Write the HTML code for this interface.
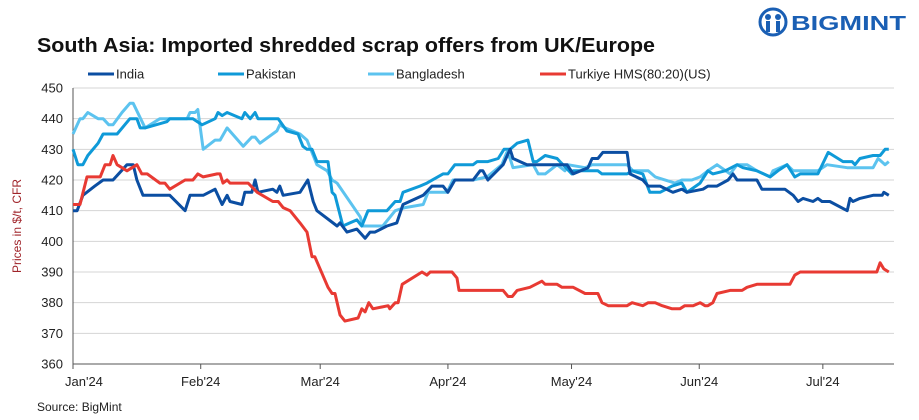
<!DOCTYPE html>
<html><head><meta charset="utf-8"><style>
body{margin:0;background:#fff;}
svg{display:block;font-family:"Liberation Sans",Arial,sans-serif;}
</style></head><body>
<svg id="chart" width="919" height="420" viewBox="0 0 919 420" xmlns="http://www.w3.org/2000/svg">
<text x="37" y="52" font-size="20" font-weight="bold" fill="#111" textLength="618" lengthAdjust="spacingAndGlyphs">South Asia: Imported shredded scrap offers from UK/Europe</text>
<g>
<circle cx="773" cy="22" r="13" fill="none" stroke="#1a5fb4" stroke-width="3"/>
<circle cx="768" cy="17" r="3" fill="#1a5fb4"/><circle cx="778" cy="17" r="3" fill="#1a5fb4"/>
<rect x="766" y="21" width="4" height="11" fill="#1a5fb4"/><rect x="776" y="21" width="4" height="11" fill="#1a5fb4"/>
<text x="791" y="30" font-size="20" font-weight="bold" fill="#1a5fb4" textLength="115" lengthAdjust="spacingAndGlyphs">BIGMINT</text>
</g>
<g id="legend" font-size="13" fill="#222"></g>
<g id="grid"></g>
<g id="yaxis" font-size="13" fill="#222"></g>
<g id="xaxis" font-size="13" fill="#222"></g>
<g id="series"></g>
<text transform="translate(21,226) rotate(-90)" text-anchor="middle" font-size="12" fill="#a0242a">Prices in $/t, CFR</text>
<text x="37" y="411" font-size="12" fill="#222">Source: BigMint</text>
</svg>
<script>
const yTicks=[360,370,380,390,400,410,420,430,440,450];
const monthLabels=["Jan'24","Feb'24","Mar'24","Apr'24","May'24","Jun'24","Jul'24"];
const monthDays=[0,31,60,91,121,152,182];
const seriesNames=["India","Pakistan","Bangladesh","Turkiye HMS(80:20)(US)"];
const seriesColors=["#0b4ea2","#0f9ad8","#5cc3ef","#e83a33"];
const indiaDays=[0,1,2.4,5.3,7.3,9.7,13.1,14.6,15.5,17,23.5,27.2,28.4,31.6,34.5,36.2,37.4,38.1,41,41.7,43.4,44.2,44.9,48.5,49.5,50.2,51,55.1,57,58.3,59.2,64.1,64.8,66.5,68.9,70.9,72.1,73.3,76.2,78.6,80.1,85,87.1,89.8,91,92.7,97.1,98.8,99.5,100.7,104.4,106.1,106.8,110.2,114.1,115,119.9,121.4,125,126,127.4,128.6,134.5,135.2,138.3,139.6,142.5,145.6,147.8,149,152.9,154.1,156.3,159,160.2,161.2,166,167.2,172.8,174.8,176,177.2,179.6,180.8,181.8,183.7,187.9,188.6,189.3,191,194.2,196.4,196.8,198];
const indiaVals=[410,410,415,418,420,420,425,425,420,415,415,410,415,415,417,412,415,413,412,416,416,420,416,417,416,418,415,416,420,413,410,405,406,403,404,401,403,403,405,406,412,415,418,418,416,420,420,423,423,420,425,430,427,425,425,425,425,422,424,427,427,429,429,422,420,418,418,416,417,416,417,418,418,420,422,420,420,417,417,415,413,414,413,414,413,413,410,414,413,414,415,415,416,415];
const pakDays=[0,1.2,2.4,3.6,6.1,7.3,10.7,13.8,15.5,16.3,17.5,22.8,23.5,29.1,31.3,34.5,35.2,36.2,37.4,41,41.7,43,44.2,44.9,49.8,51.9,54.6,55.8,56.8,58,59.2,61.9,62.9,63.6,65.5,67.2,68.9,70.1,71.6,76.2,78.2,79.4,80.1,84.2,85.9,89.8,91,92.7,97.1,98.1,100.7,103.2,104.6,106.1,107.8,110.4,111.7,112.6,114.6,117.5,118.2,121.1,121.4,124.3,127.4,128.4,134.5,135.7,138.3,140,142.5,145.4,147.8,149,152.2,154.1,155.3,158.3,161.2,162.6,166,169.2,171.1,173.3,175.2,176.5,180.8,183.3,186.9,189.1,189.8,191,194.2,195.9,197.1,198];
const pakVals=[430,425,425,428,432,435,435,440,440,437,437,439,440,440,438,440,442,441,442,440,442,440,442,440,440,436,435,431,430,430,426,426,416,415,405,406,407,405,410,410,413,413,416,418,419,422,422,425,425,426,426,427,430,430,432,433,426,426,428,427,426,422,423,423,423,422,422,423,422,416,416,418,419,416,419,423,422,423,425,424,423,421,423,425,421,422,422,429,426,426,425,427,428,428,430,430];
const bdDays=[0,1.7,2.4,3.6,6.1,7.3,8.7,9.7,11.9,13.8,14.6,17.5,21.1,27.7,28.4,29.6,30.3,31.6,34.5,35.7,37.4,41.3,43.4,44.2,45.4,49.5,50.2,51.5,55.1,56.8,59.2,61.7,62.9,64.1,69.7,70.4,75.2,78.2,80.6,85,86.2,90.8,92.2,97.1,100.5,104.1,105.3,106.1,106.8,111.7,112.9,114.6,117.5,119.4,120.1,124.3,126,134.5,135.9,139.6,141.3,146.1,147.8,150.2,152.2,154.1,156.3,159.5,161.2,163.6,166,169.2,169.9,173.3,174.8,176.5,180.8,183,187.9,194.2,195.4,197.1,198];
const bdVals=[435,440,440,442,440,440,438,438,442,445,445,437,440,440,442,442,443,430,433,433,437,431,434,434,432,436,438,437,435,433,425,423,420,419,408,405,405,410,411,412,416,416,420,420,421,425,429,427,424,425,422,422,425,423,425,424,425,425,423,423,421,419,420,420,421,423,425,422,425,425,423,421,423,425,423,423,423,425,424,424,427,425,426];
const trDays=[0,1.7,3.4,6.6,7.8,9,9.7,10.7,13.1,15.5,16.7,18,21.1,22.3,23.5,27.2,29.1,30.3,31.6,35,35.7,36.4,37.4,38.1,42.5,44.7,48.5,49.8,51,52.7,55.1,56.8,58,58.7,61.9,62.9,63.6,64.8,66,69.2,70.1,70.9,71.8,72.8,76.5,76.9,78.2,78.9,79.9,84.7,85.9,86.7,92,93.2,93.7,104.4,105.6,106.6,107.8,110.9,113.8,114.6,117.5,118.7,121.4,124.3,127.4,128.4,129.9,134.5,135.7,138.3,139.6,141.3,143,145.4,147.3,148.5,150.5,152.2,153.4,154.1,155.3,156.3,159.5,162.4,163.6,166,174,175.2,176.5,195.1,195.9,196.8,198];
const trVals=[412,412,421,421,425,425,428,425,423,425,422,422,419,419,417,420,420,422,421,422,422,419,420,419,419,416,413,413,411,410,406,403,395,395,385,383,383,376,374,375,378,377,380,378,379,378,380,380,386,390,389,390,390,388,384,384,382,382,384,385,387,386,386,385,385,383,383,380,379,379,380,379,380,380,379,378,378,379,379,380,379,379,380,383,384,384,385,386,386,389,390,390,393,391,390];

const X0=73,X1=890,DMAX=198.3,Y0=364,Y1=88,VMIN=360,VMAX=450;
const xs=d=>X0+d*(X1-X0)/DMAX;
const ys=v=>Y0-(v-VMIN)*(Y0-Y1)/(VMAX-VMIN);
const NS="http://www.w3.org/2000/svg";
function mk(tag,attrs,parent){const e=document.createElementNS(NS,tag);for(const k in attrs)e.setAttribute(k,attrs[k]);parent.appendChild(e);return e;}
const grid=document.getElementById('grid'),ya=document.getElementById('yaxis'),xa=document.getElementById('xaxis');
yTicks.forEach(t=>{
  if(t>VMIN){const l=mk('line',{x1:X0,x2:894,y1:ys(t),y2:ys(t),stroke:'#d4d4d4','stroke-width':1},grid);
  
  }
  const tx=mk('text',{x:63,y:ys(t)+4.5,'text-anchor':'end'},ya);
  
  
  tx.textContent=t;
});
const ax=mk('line',{x1:X0,x2:X0,y1:Y1,y2:Y0,stroke:'#555','stroke-width':1},ya);


const bx=mk('line',{x1:X0,x2:894,y1:Y0,y2:Y0,stroke:'#555','stroke-width':1},xa);


monthLabels.forEach((m,i)=>{
  const x=xs(monthDays[i]);
  const tk=mk('line',{x1:x,x2:x,y1:Y0,y2:Y0+5,stroke:'#555'},xa);
  
  
  const tx=mk('text',{x:i===0?x-8:x,y:386,'text-anchor':i===0?'start':'middle'},xa);
  
  
  tx.textContent=m;
});
const sd=[indiaDays,pakDays,bdDays,trDays],sv=[indiaVals,pakVals,bdVals,trVals];
const sg=document.getElementById('series');
[2,1,0,3].forEach(i=>{
  const pts=sd[i].map((d,j)=>xs(d).toFixed(1)+','+ys(sv[i][j]).toFixed(1)).join(' ');
  const p=mk('polyline',{points:pts,fill:'none',stroke:seriesColors[i],'stroke-width':3,'stroke-linejoin':'round'},sg);
  
  
});
const lg=document.getElementById('legend');
const lx=[88,218,368,540];
seriesNames.forEach((n,i)=>{
  const l=mk('line',{x1:lx[i],x2:lx[i]+26,y1:74,y2:74,stroke:seriesColors[i],'stroke-width':3},lg);
  
  
  const t=mk('text',{x:lx[i]+28,y:78.5},lg);
  
  
  t.textContent=n;
});
</script>
</body></html>
